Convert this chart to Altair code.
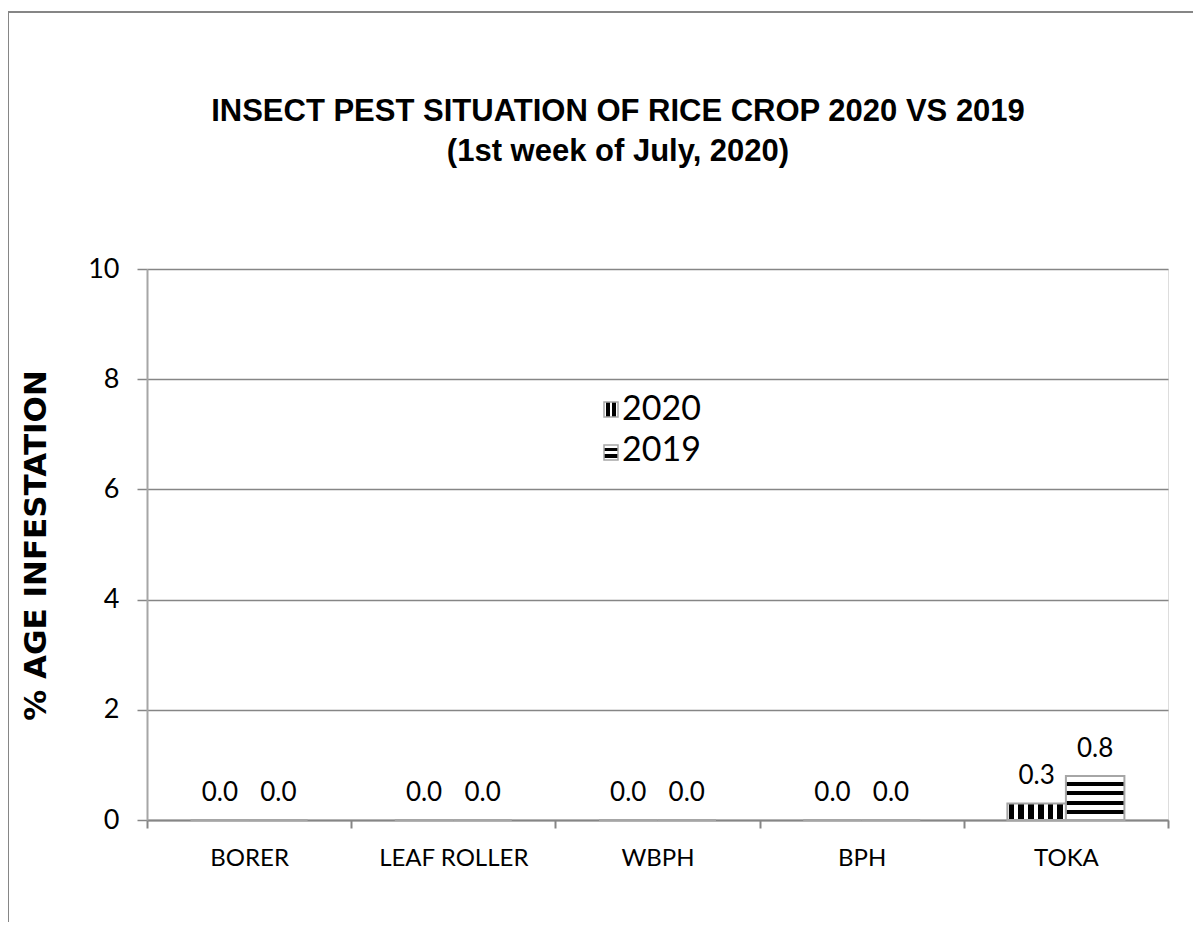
import altair as alt
import pandas as pd

# ---- data ----
categories = ["BORER", "LEAF ROLLER", "WBPH", "BPH", "TOKA"]
years = ["2020", "2019"]
values_2020 = [0.0, 0.0, 0.0, 0.0, 0.3]
values_2019 = [0.0, 0.0, 0.0, 0.0, 0.8]
y_ticks = [0, 2, 4, 6, 8, 10]
title_lines = ["INSECT PEST SITUATION OF RICE CROP 2020 VS 2019", "(1st week of July, 2020)"]
y_title = "% AGE INFESTATION"

df = pd.DataFrame({
    "cat": categories * 2,
    "year": [years[0]] * len(categories) + [years[1]] * len(categories),
    "value": values_2020 + values_2019,
})

GREY = "#868686"
BAR_STROKE = "#a6a6a6"
CAL = "Lato"


def striped(bands, along_y):
    stops = [alt.GradientStop(offset=0, color="white")]
    for a, b in bands:
        stops += [
            alt.GradientStop(offset=a, color="white"),
            alt.GradientStop(offset=a, color="black"),
            alt.GradientStop(offset=b, color="black"),
            alt.GradientStop(offset=b, color="white"),
        ]
    stops.append(alt.GradientStop(offset=1, color="white"))
    if along_y:
        return alt.LinearGradient(gradient="linear", stops=stops, x1=0, y1=0, x2=0, y2=1)
    return alt.LinearGradient(gradient="linear", stops=stops, x1=0, y1=0, x2=1, y2=0)


# vertical stripes (2020) and horizontal stripes (2019)
n_v = 6
fill_2020 = striped([(i / n_v + 0.02, i / n_v + 0.12) for i in range(n_v)], along_y=False)
fill_2019 = striped([(0.128 + k * 0.2165, 0.128 + k * 0.2165 + 0.09) for k in range(4)], along_y=True)
leg_2020 = striped([(0.15, 0.42), (0.6, 0.87)], along_y=False)
leg_2019 = striped([(0.18, 0.42), (0.6, 0.84)], along_y=True)

x_enc = alt.X(
    "cat:N",
    sort=categories,
    scale=alt.Scale(paddingInner=0, paddingOuter=0),
    axis=alt.Axis(
        title=None, labelAngle=0, labelFont=CAL, labelFontSize=24, labelColor="black",
        labelPadding=18, tickSize=8, tickBand="extent", tickColor=GREY, tickWidth=2,
        domainColor=GREY, domainWidth=2, grid=False,
    ),
)
xo_enc = alt.XOffset(
    "year:N", sort=years,
    scale=alt.Scale(domain=years, paddingOuter=0.745, paddingInner=0),
)
y_enc = alt.Y(
    "value:Q",
    scale=alt.Scale(domain=[0, 10]),
    axis=alt.Axis(
        values=y_ticks, format="d", labelFont=CAL, labelFontSize=27, labelColor="black",
        tickSize=10, labelPadding=18, tickColor=GREY, tickWidth=1.5,
        domainColor="#a6a6a6", domainWidth=2, gridColor=GREY, gridWidth=1.5,
        title=y_title, titleFont="DejaVu Sans", titleFontSize=31, titleFontWeight="bold",
        titleColor="black", titleAngle=-90, titleAlign="center", titleBaseline="alphabetic",
        titleX=-102, titleY=276,
    ),
)

base = alt.Chart(df).encode(x=x_enc, xOffset=xo_enc, y=y_enc)

bars_2020 = base.transform_filter(alt.datum.year == years[0]).mark_bar(
    fill=fill_2020, stroke=BAR_STROKE, strokeWidth=2
)
bars_2019 = base.transform_filter(alt.datum.year == years[1]).mark_bar(
    fill=fill_2019, stroke=BAR_STROKE, strokeWidth=2
)
labels = base.mark_text(
    font=CAL, fontSize=26, color="black", baseline="alphabetic", dy=-19
).encode(text=alt.Text("value:Q", format=".1f"))

one = pd.DataFrame({"k": [0]})

# outer chart border (left and top edges visible)
border_left = alt.Chart(one).mark_rule(color=GREY, strokeWidth=2).encode(
    x=alt.value(-139), y=alt.value(-257), y2=alt.value(700)
)
border_top = alt.Chart(one).mark_rule(color=GREY, strokeWidth=2).encode(
    x=alt.value(-139), x2=alt.value(1060), y=alt.value(-257)
)

# legend inside plot
sw_2020 = alt.Chart(one).mark_rect(fill=leg_2020, stroke=BAR_STROKE, strokeWidth=1.5).encode(
    x=alt.value(457), x2=alt.value(471), y=alt.value(133), y2=alt.value(148)
)
sw_2019 = alt.Chart(one).mark_rect(fill=leg_2019, stroke=BAR_STROKE, strokeWidth=1.5).encode(
    x=alt.value(457), x2=alt.value(471), y=alt.value(176), y2=alt.value(191)
)
lt_2020 = alt.Chart(one).mark_text(
    font=CAL, fontSize=34, align="left", baseline="alphabetic", color="black", text=years[0]
).encode(x=alt.value(475), y=alt.value(151))
lt_2019 = alt.Chart(one).mark_text(
    font=CAL, fontSize=34, align="left", baseline="alphabetic", color="black", text=years[1]
).encode(x=alt.value(475), y=alt.value(192))

chart = alt.layer(
    border_left, border_top, bars_2020, bars_2019, labels, sw_2020, sw_2019, lt_2020, lt_2019
).properties(
    width=1021,
    height=551,
    padding={"left": 139, "top": 261, "right": 25, "bottom": 102},
    autosize=alt.AutoSizeParams(type="none"),
    title=alt.TitleParams(
        text=title_lines, font="Liberation Sans", fontSize=31, fontWeight="bold",
        color="black", anchor="middle", frame="group", offset=0, baseline="alphabetic",
        lineHeight=40, dx=-39.5, dy=181,
    ),
).configure_view(stroke=None).configure(background="white")

chart.save("out.html", embed_options={"renderer": "svg", "actions": False})
